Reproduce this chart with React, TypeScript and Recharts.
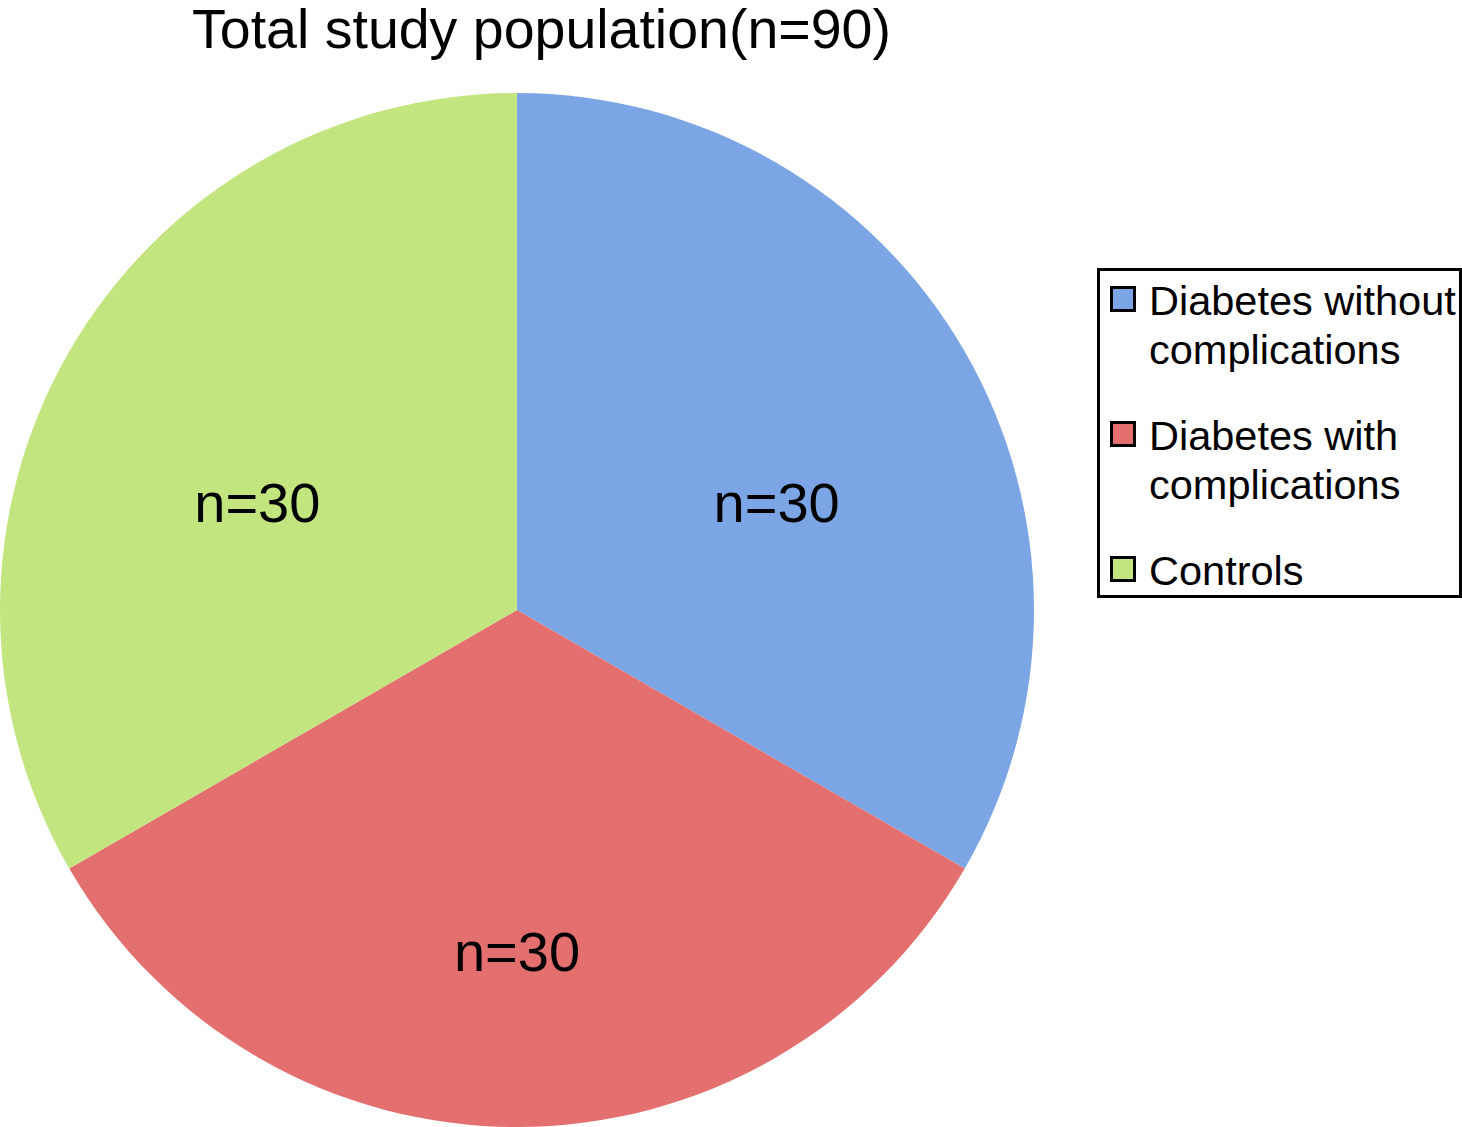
import React from "react";
import { PieChart, Pie, Cell, Legend } from "recharts";

const categories = [
  "Diabetes without complications",
  "Diabetes with complications",
  "Controls",
];
const counts = [30, 30, 30];
const colors = ["#7BA5E4", "#E46F6F", "#C3E57F"];
const title = "Total study population(n=90)";

const data = categories.map((name, i) => ({ name, value: counts[i] }));

const FONT = "'Liberation Sans', Arial, Helvetica, sans-serif";
const RAD = Math.PI / 180;

const renderLabel = (props: any) => {
  const { cx, cy, midAngle, outerRadius, value } = props;
  const r = outerRadius * 0.58;
  const x = cx + r * Math.cos(-midAngle * RAD);
  const y = cy + r * Math.sin(-midAngle * RAD) + 42;
  return (
    <text
      x={x}
      y={y}
      textAnchor="middle"
      dominantBaseline="central"
      fill="#000"
      fontSize={56}
      fontFamily={FONT}
    >
      {`n=${value}`}
    </text>
  );
};

const renderLegend = (props: any) => {
  const payload = [...(props.payload || [])].sort(
    (a: any, b: any) => categories.indexOf(a.value) - categories.indexOf(b.value)
  );
  return (
    <div
      style={{
        border: "3px solid #000",
        background: "#fff",
        width: 349,
        boxSizing: "content-box",
        paddingTop: 5,
        paddingLeft: 10,
        fontFamily: FONT,
        fontSize: 41.5,
        lineHeight: "49px",
        color: "#000",
      }}
    >
      {payload.map((entry: any, i: number) => (
        <div
          key={i}
          style={{
            display: "flex",
            alignItems: "flex-start",
            marginTop: i === 0 ? 0 : 37,
          }}
        >
          <div
            style={{
              width: 20,
              height: 20,
              border: "3px solid #000",
              background: entry.color,
              marginTop: 10,
              marginRight: 13,
              flexShrink: 0,
            }}
          />
          <div style={{ width: 312, textAlign: "left", whiteSpace: "normal" }}>{entry.value}</div>
        </div>
      ))}
    </div>
  );
};

export default function App() {
  return (
    <div
      style={{
        position: "absolute",
        left: 0,
        top: 0,
        width: 1462,
        height: 1127,
        background: "#fff",
        overflow: "hidden",
      }}
    >
      <div
        style={{
          position: "absolute",
          left: 0,
          top: 0,
          width: 1083,
          textAlign: "center",
          fontFamily: FONT,
          fontSize: 55.5,
          lineHeight: "58px",
          color: "#000",
          whiteSpace: "nowrap",
        }}
      >
        {title}
      </div>
      <PieChart
        width={1462}
        height={1127}
        margin={{ top: 0, right: 0, bottom: 0, left: 0 }}
        style={{ position: "absolute", left: 0, top: 0 }}
      >
        <Pie
          data={data}
          dataKey="value"
          nameKey="name"
          cx={517}
          cy={610}
          outerRadius={517}
          startAngle={90}
          endAngle={-270}
          stroke="none"
          label={renderLabel}
          labelLine={false}
          isAnimationActive={false}
        >
          {data.map((d, i) => (
            <Cell key={d.name} fill={colors[i]} />
          ))}
        </Pie>
        <Legend
          content={renderLegend}
          layout="vertical"
          wrapperStyle={{ position: "absolute", left: 1097, top: 268, width: 368 }}
        />
      </PieChart>
    </div>
  );
}
